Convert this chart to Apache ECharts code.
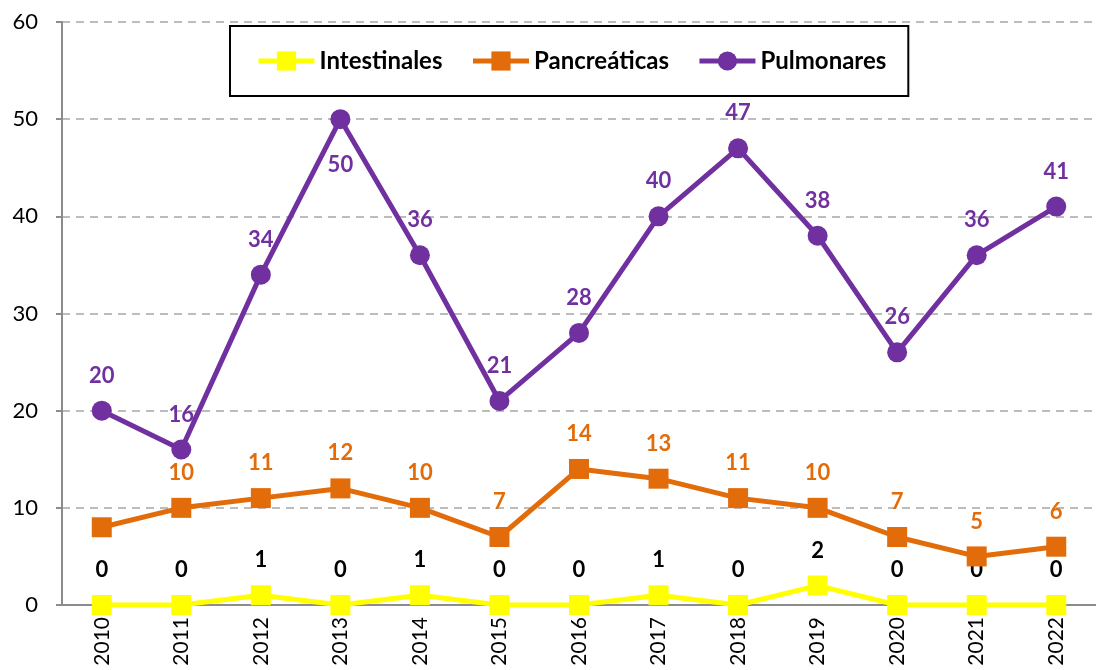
<!DOCTYPE html>
<html>
<head>
<meta charset="utf-8">
<script src="https://cdn.jsdelivr.net/npm/echarts@6/dist/echarts.min.js"></script>
<style>
  html, body { margin: 0; padding: 0; background: #fff; }
  #chart { width: 1096px; height: 670px; }
</style>
</head>
<body>
<div id="chart"></div>
<script>
// datos
const years = ['2010', '2011', '2012', '2013', '2014', '2015', '2016', '2017', '2018', '2019', '2020', '2021', '2022']
const intestinales = [0, 0, 1, 0, 1, 0, 0, 1, 0, 2, 0, 0, 0]
const pancreaticas = [8, 10, 11, 12, 10, 7, 14, 13, 11, 10, 7, 5, 6]
const pulmonares = [20, 16, 34, 50, 36, 21, 28, 40, 47, 38, 26, 36, 41]

const font = 'Lato, "Open Sans", sans-serif'
const chart = echarts.init(document.getElementById('chart'))

// etiquetas: 2010 pancreáticas sin etiqueta, 2013 pulmonares debajo
const pancData = pancreaticas.map((v, i) => i === 0 ? { value: v, label: { show: false } } : v)
const pulmData = pulmonares.map((v, i) => i === 3 ? { value: v, label: { position: 'bottom', distance: 25 } } : v)

const option = {
  animation: false,
  grid: { left: 62, right: -11, top: 22, bottom: 65 },
  legend: {
    left: 230,
    top: 26,
    padding: [23, 22, 23, 26],
    borderColor: '#000',
    borderWidth: 2,
    itemWidth: 56,
    itemHeight: 24,
    itemGap: 28,
    lineStyle: { width: 5 },
    textStyle: { fontFamily: font, fontWeight: 'bold', fontSize: 24, color: '#000' },
    data: ['Intestinales', 'Pancreáticas', 'Pulmonares']
  },
  xAxis: {
    type: 'category',
    data: years,
    axisLine: { lineStyle: { color: '#8c8c8c', width: 2 } },
    axisTick: { lineStyle: { color: '#8c8c8c', width: 2 }, length: 6 },
    axisLabel: { rotate: 90, color: '#000', fontSize: 21, fontFamily: font, margin: 12 }
  },
  yAxis: {
    type: 'value',
    min: 0,
    max: 60,
    interval: 10,
    axisLine: { show: true, lineStyle: { color: '#8c8c8c', width: 2 } },
    axisTick: { show: true, lineStyle: { color: '#8c8c8c', width: 2 }, length: 6 },
    axisLabel: { color: '#000', fontSize: 22, fontFamily: font, margin: 24 },
    splitLine: { lineStyle: { color: '#a6a6a6', type: [8, 6], width: 1.5 } }
  },
  series: [
    {
      name: 'Intestinales',
      type: 'line',
      data: intestinales,
      symbol: 'rect',
      symbolSize: 20,
      itemStyle: { color: '#ffff00' },
      lineStyle: { color: '#ffff00', width: 5 },
      label: { show: true, position: 'top', distance: 14, color: '#000', fontWeight: 'bold', fontSize: 22, fontFamily: font },
      z: 2
    },
    {
      name: 'Pancreáticas',
      type: 'line',
      data: pancData,
      symbol: 'rect',
      symbolSize: 20,
      itemStyle: { color: '#e36c0a' },
      lineStyle: { color: '#e36c0a', width: 5 },
      label: { show: true, position: 'top', distance: 14, color: '#e36c0a', fontWeight: 'bold', fontSize: 22, fontFamily: font },
      z: 3
    },
    {
      name: 'Pulmonares',
      type: 'line',
      data: pulmData,
      symbol: 'circle',
      symbolSize: 20,
      itemStyle: { color: '#7030a0' },
      lineStyle: { color: '#7030a0', width: 5 },
      label: { show: true, position: 'top', distance: 14, color: '#7030a0', fontWeight: 'bold', fontSize: 22, fontFamily: font },
      z: 4
    }
  ]
}

chart.setOption(option)
</script>
</body>
</html>
